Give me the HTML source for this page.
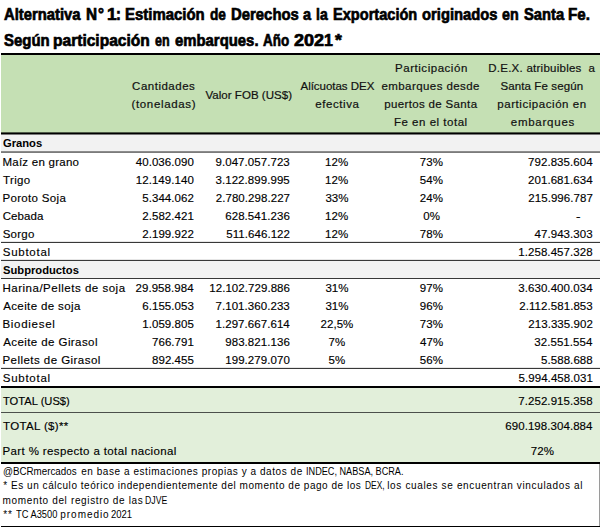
<!DOCTYPE html>
<html lang="es"><head><meta charset="utf-8"><title>Alternativa N°1</title>
<style>
html,body{margin:0;padding:0;background:#fff;}
body{width:600px;height:527px;position:relative;overflow:hidden;font-family:"Liberation Sans",sans-serif;}
.x{position:absolute;white-space:nowrap;line-height:1;}
.r{position:absolute;left:1px;width:599px;}
.cd{font-size:11.5px;font-weight:normal;color:#000;-webkit-text-stroke:0.15px #000;}
.cn{font-size:11.5px;font-weight:normal;color:#000;-webkit-text-stroke:0.15px #000;letter-spacing:0.06px;}
.ch{font-size:11.5px;font-weight:normal;color:#111;-webkit-text-stroke:0.2px #111;}
.cb{font-size:11.5px;font-weight:bold;color:#000;}
.cf{font-size:10px;font-weight:normal;color:#000;}
.ct{font-size:17px;font-weight:bold;color:#000;-webkit-text-stroke:0.7px #000;}
</style></head>
<body>
<div class="r" style="top:53px;height:2px;background:#000"></div>
<div class="r" style="top:55px;height:77px;background:#c5e0b4"></div>
<div class="r" style="top:132px;height:1px;background:#4f5a48"></div>
<div class="r" style="top:133px;height:1px;background:#000"></div>
<div class="r" style="top:134px;height:1px;background:#797979"></div>
<div class="r" style="top:135px;height:16px;background:#f2f2f2"></div>
<div class="r" style="top:151px;height:1px;background:#8c8c8c"></div>
<div class="r" style="top:152px;height:1px;background:#7b7b7b"></div>
<div class="r" style="top:241px;height:1px;background:#e6e6e6"></div>
<div class="r" style="top:242px;height:1px;background:#383838"></div>
<div class="r" style="top:259px;height:1px;background:#e6e6e6"></div>
<div class="r" style="top:260px;height:1px;background:#383838"></div>
<div class="r" style="top:261px;height:17px;background:#f2f2f2"></div>
<div class="r" style="top:278px;height:1px;background:#383838"></div>
<div class="r" style="top:367px;height:1px;background:#e6e6e6"></div>
<div class="r" style="top:368px;height:1px;background:#383838"></div>
<div class="r" style="top:386px;height:2px;background:#000"></div>
<div class="r" style="top:388px;height:74px;background:#e2efda"></div>
<div class="r" style="top:412px;height:1px;background:#4b504b"></div>
<div class="r" style="top:462px;height:2px;background:#000"></div>
<div class="r" style="top:526px;height:1px;background:#000"></div>
<div style="position:absolute;left:599px;top:464px;width:1px;height:62px;background:#9a9a9a"></div>

<div class="x ch" style="left:132.10px;letter-spacing:0.500px;top:81px">Cantidades</div>
<div class="x ch" style="left:131.50px;letter-spacing:0.650px;top:99px">(toneladas)</div>
<div class="x ch" style="left:205.40px;letter-spacing:0.043px;top:90px">Valor FOB (US$)</div>
<div class="x ch" style="left:300.50px;letter-spacing:-0.025px;top:81px">Alícuotas DEX</div>
<div class="x ch" style="left:315.25px;letter-spacing:0.571px;top:99px">efectiva</div>
<div class="x ch" style="left:395.05px;letter-spacing:0.533px;top:63px">Participación</div>
<div class="x ch" style="left:381.45px;letter-spacing:0.429px;top:81px">embarques desde</div>
<div class="x ch" style="left:384.25px;letter-spacing:0.347px;top:99px">puertos de Santa</div>
<div class="x ch" style="left:393.95px;letter-spacing:0.519px;top:117px">Fe en el total</div>
<div class="x ch" style="left:488.25px;letter-spacing:0.250px;top:63px">D.E.X. atribuibles&nbsp; a</div>
<div class="x ch" style="left:500.50px;letter-spacing:0.104px;top:81px">Santa Fe según</div>
<div class="x ch" style="left:497.25px;letter-spacing:0.557px;top:99px">participación en</div>
<div class="x ch" style="left:510.75px;letter-spacing:0.750px;top:117px">embarques</div>
<div class="x cb" style="left:2.81px;transform:scaleX(0.9732);transform-origin:0 0;top:138px">Granos</div>
<div class="x cb" style="left:3.06px;transform:scaleX(0.9735);transform-origin:0 0;top:265px">Subproductos</div>
<div class="x cd" style="left:2.45px;letter-spacing:0.250px;top:157px">Maíz en grano</div>
<div class="x cn" style="left:135.75px;top:157px">40.036.090</div>
<div class="x cn" style="left:215.50px;top:157px">9.047.057.723</div>
<div class="x cn" style="left:325.12px;top:157px">12%</div>
<div class="x cn" style="left:419.85px;top:157px">73%</div>
<div class="x cn" style="left:528.05px;top:157px">792.835.604</div>
<div class="x cd" style="left:2.95px;letter-spacing:0.388px;top:175px">Trigo</div>
<div class="x cn" style="left:135.75px;top:175px">12.149.140</div>
<div class="x cn" style="left:215.50px;top:175px">3.122.899.995</div>
<div class="x cn" style="left:325.12px;top:175px">12%</div>
<div class="x cn" style="left:419.85px;top:175px">54%</div>
<div class="x cn" style="left:528.05px;top:175px">201.681.634</div>
<div class="x cd" style="left:2.45px;letter-spacing:0.330px;top:193px">Poroto Soja</div>
<div class="x cn" style="left:142.25px;top:193px">5.344.062</div>
<div class="x cn" style="left:215.75px;top:193px">2.780.298.227</div>
<div class="x cn" style="left:325.38px;top:193px">33%</div>
<div class="x cn" style="left:419.85px;top:193px">24%</div>
<div class="x cn" style="left:528.30px;top:193px">215.996.787</div>
<div class="x cd" style="left:2.70px;letter-spacing:0.100px;top:211px">Cebada</div>
<div class="x cn" style="left:142.25px;top:211px">2.582.421</div>
<div class="x cn" style="left:225.25px;top:211px">628.541.236</div>
<div class="x cn" style="left:325.12px;top:211px">12%</div>
<div class="x cn" style="left:423.23px;top:211px">0%</div>
<div class="x cn" style="left:575.92px;transform:scaleX(1.1667);transform-origin:0 0;top:211px">-</div>
<div class="x cd" style="left:2.70px;letter-spacing:0.263px;top:229px">Sorgo</div>
<div class="x cn" style="left:142.25px;top:229px">2.199.922</div>
<div class="x cn" style="left:226.25px;top:229px">511.646.122</div>
<div class="x cn" style="left:325.12px;top:229px">12%</div>
<div class="x cn" style="left:419.85px;top:229px">78%</div>
<div class="x cn" style="left:534.55px;top:229px">47.943.303</div>
<div class="x cd" style="left:2.45px;letter-spacing:0.512px;top:283px">Harina/Pellets de soja</div>
<div class="x cn" style="left:135.50px;top:283px">29.958.984</div>
<div class="x cn" style="left:209.25px;top:283px">12.102.729.886</div>
<div class="x cn" style="left:325.38px;top:283px">31%</div>
<div class="x cn" style="left:419.85px;top:283px">97%</div>
<div class="x cn" style="left:518.30px;top:283px">3.630.400.034</div>
<div class="x cd" style="left:3.20px;letter-spacing:0.377px;top:301px">Aceite de soja</div>
<div class="x cn" style="left:142.25px;top:301px">6.155.053</div>
<div class="x cn" style="left:215.50px;top:301px">7.101.360.233</div>
<div class="x cn" style="left:325.38px;top:301px">31%</div>
<div class="x cn" style="left:419.85px;top:301px">96%</div>
<div class="x cn" style="left:519.30px;top:301px">2.112.581.853</div>
<div class="x cd" style="left:2.45px;letter-spacing:0.719px;top:319px">Biodiesel</div>
<div class="x cn" style="left:142.25px;top:319px">1.059.805</div>
<div class="x cn" style="left:215.50px;top:319px">1.297.667.614</div>
<div class="x cn" style="left:320.50px;top:319px">22,5%</div>
<div class="x cn" style="left:419.85px;top:319px">73%</div>
<div class="x cn" style="left:528.30px;top:319px">213.335.902</div>
<div class="x cd" style="left:3.20px;letter-spacing:0.419px;top:337px">Aceite de Girasol</div>
<div class="x cn" style="left:152.00px;top:337px">766.791</div>
<div class="x cn" style="left:225.25px;top:337px">983.821.136</div>
<div class="x cn" style="left:328.50px;top:337px">7%</div>
<div class="x cn" style="left:419.98px;top:337px">47%</div>
<div class="x cn" style="left:534.30px;top:337px">32.551.554</div>
<div class="x cd" style="left:2.45px;letter-spacing:0.456px;top:355px">Pellets de Girasol</div>
<div class="x cn" style="left:152.00px;top:355px">892.455</div>
<div class="x cn" style="left:225.25px;top:355px">199.279.070</div>
<div class="x cn" style="left:328.50px;top:355px">5%</div>
<div class="x cn" style="left:419.85px;top:355px">56%</div>
<div class="x cn" style="left:541.05px;top:355px">5.588.688</div>
<div class="x cd" style="left:2.80px;letter-spacing:0.729px;top:247px">Subtotal</div>
<div class="x cn" style="left:518.30px;top:247px">1.258.457.328</div>
<div class="x cd" style="left:2.80px;letter-spacing:0.729px;top:373px">Subtotal</div>
<div class="x cn" style="left:518.55px;top:373px">5.994.458.031</div>
<div class="x cd" style="left:3.06px;transform:scaleX(0.9706);transform-origin:0 0;top:396px">TOTAL (US$)</div>
<div class="x cn" style="left:518.30px;top:396px">7.252.915.358</div>
<div class="x cd" style="left:3.05px;letter-spacing:0.350px;top:421px">TOTAL ($)**</div>
<div class="x cn" style="left:505.30px;top:421px">690.198.304.884</div>
<div class="x cd" style="left:2.55px;letter-spacing:0.368px;top:446px">Part % respecto a total nacional</div>
<div class="x cn" style="left:530.75px;top:446px">72%</div>
<div class="x cf" style="left:2.57px;transform:scaleX(0.9791);transform-origin:0 0;top:467px">@BCRmercados</div>
<div class="x cf" style="left:81.20px;letter-spacing:0.550px;top:467px">en base a estimaciones propias y a datos de</div>
<div class="x cf" style="left:305.69px;transform:scaleX(0.9136);transform-origin:0 0;top:467px">INDEC, NABSA, BCRA.</div>
<div class="x cf" style="left:3.35px;letter-spacing:0.532px;top:481px">* Es un cálculo teórico independientemente del momento de pago de los</div>
<div class="x cf" style="left:364.67px;transform:scaleX(0.8414);transform-origin:0 0;top:481px">DEX,</div>
<div class="x cf" style="left:387.25px;letter-spacing:0.647px;top:481px">los cuales se encuentran vinculados al</div>
<div class="x cf" style="left:2.55px;letter-spacing:0.648px;top:496px">momento del registro de las</div>
<div class="x cf" style="left:145.35px;transform:scaleX(0.8694);transform-origin:0 0;top:496px">DJVE</div>
<div class="x cf" style="left:3.25px;letter-spacing:0.950px;top:510px">**</div>
<div class="x cf" style="left:16.07px;transform:scaleX(0.9295);transform-origin:0 0;top:510px">TC A3500</div>
<div class="x cf" style="left:60.35px;letter-spacing:0.943px;top:510px">promedio</div>
<div class="x cf" style="left:111.32px;transform:scaleX(0.9506);transform-origin:0 0;top:510px">2021</div>
<div class="x ct" style="left:4.20px;transform:translateY(-0.2px) scaleX(0.8701);transform-origin:0 0;top:6px">Alternativa</div>
<div class="x ct" style="left:85.62px;transform:translateY(-0.2px) scaleX(0.9023);transform-origin:0 0;top:6px">N</div>
<div class="x ct" style="left:98.28px;transform:translateY(-0.2px) scaleX(0.8800);transform-origin:0 0;top:6px">°</div>
<div class="x ct" style="left:107.03px;transform:translateY(-0.2px) scaleX(1.0235);transform-origin:0 0;top:6px">1</div>
<div class="x ct" style="left:116.12px;transform:translateY(-0.2px) scaleX(0.8615);transform-origin:0 0;top:6px">:</div>
<div class="x ct" style="left:124.94px;transform:translateY(-0.2px) scaleX(0.8784);transform-origin:0 0;top:6px">Estimación</div>
<div class="x ct" style="left:209.60px;transform:translateY(-0.2px) scaleX(0.8051);transform-origin:0 0;top:6px">de</div>
<div class="x ct" style="left:230.84px;transform:translateY(-0.2px) scaleX(0.8758);transform-origin:0 0;top:6px">Derechos</div>
<div class="x ct" style="left:302.50px;transform:translateY(-0.2px) scaleX(0.8500);transform-origin:0 0;top:6px">a</div>
<div class="x ct" style="left:315.88px;transform:translateY(-0.2px) scaleX(0.8214);transform-origin:0 0;top:6px">la</div>
<div class="x ct" style="left:332.86px;transform:translateY(-0.2px) scaleX(0.8579);transform-origin:0 0;top:6px">Exportación</div>
<div class="x ct" style="left:421.78px;transform:translateY(-0.2px) scaleX(0.8696);transform-origin:0 0;top:6px">originados</div>
<div class="x ct" style="left:501.79px;transform:translateY(-0.2px) scaleX(0.8421);transform-origin:0 0;top:6px">en</div>
<div class="x ct" style="left:523.50px;transform:translateY(-0.2px) scaleX(0.8663);transform-origin:0 0;top:6px">Santa</div>
<div class="x ct" style="left:568.33px;transform:translateY(-0.2px) scaleX(0.8913);transform-origin:0 0;top:6px">Fe.</div>
<div class="x ct" style="left:4.20px;transform:translateY(-0.2px) scaleX(0.8800);transform-origin:0 0;top:32px">Según</div>
<div class="x ct" style="left:53.21px;transform:translateY(-0.2px) scaleX(0.9148);transform-origin:0 0;top:32px">participación</div>
<div class="x ct" style="left:154.82px;transform:translateY(-0.2px) scaleX(0.7368);transform-origin:0 0;top:32px">en</div>
<div class="x ct" style="left:174.78px;transform:translateY(-0.2px) scaleX(0.8753);transform-origin:0 0;top:32px">embarques.</div>
<div class="x ct" style="left:263.00px;transform:translateY(-0.2px) scaleX(0.7939);transform-origin:0 0;top:32px">Año</div>
<div class="x ct" style="left:294.23px;transform:translateY(-0.2px) scaleX(1.0631);transform-origin:0 0;top:32px">202</div>
<div class="x ct" style="left:324.29px;transform:translateY(-0.2px) scaleX(0.9412);transform-origin:0 0;top:32px">1</div>
<div class="x ct" style="left:335.26px;transform:translateY(-0.2px) scaleX(1.0345);transform-origin:0 0;top:32px">*</div>
</body></html>
